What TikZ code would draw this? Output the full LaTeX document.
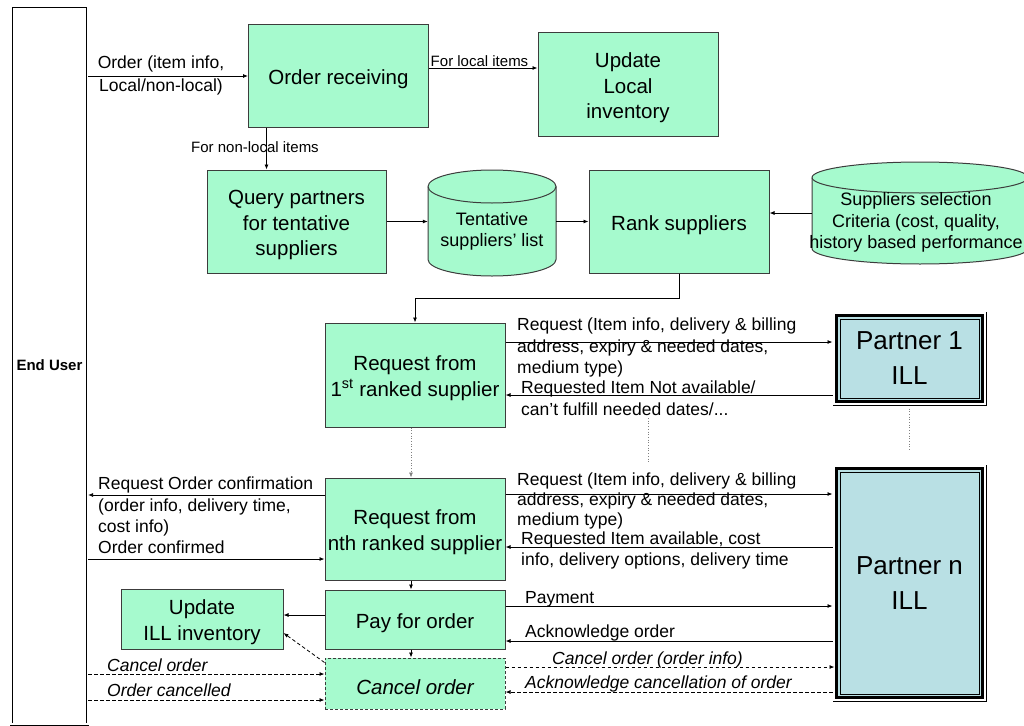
\documentclass[tikz,border=0pt]{standalone}
\usepackage{fontspec}
\setmainfont{Liberation Sans}
\usetikzlibrary{arrows.meta,calc}

\definecolor{mint}{RGB}{166,250,206}
\definecolor{illblue}{RGB}{185,224,228}
\definecolor{edgegray}{RGB}{60,60,60}
\newcommand{\tallstrut}{\rule{0pt}{21.5pt}}

\begin{document}
\begin{tikzpicture}[x=1pt,y=-1pt,
  box/.style={draw=edgegray, line width=1pt, fill=mint, align=center, inner sep=2pt,
              font=\fontsize{20.5}{25.5}\selectfont,
              execute at begin node={\rule{0pt}{22pt}}},
  multibox/.style={draw=edgegray, line width=1pt, fill=mint, align=center, inner sep=2pt,
              font=\fontsize{20.5}{25.5}\selectfont},
  cyltext/.style={align=center, inner sep=0pt, font=\fontsize{18}{21.5}\selectfont},
  cylbody/.style={draw=edgegray, line width=1pt, fill=mint},
  partner/.style={draw=black, line width=1pt, fill=illblue, align=center, inner sep=0pt,
                  font=\fontsize{26}{35}\selectfont,
                  execute at begin node={\rule{0pt}{24pt}}},
  enduser/.style={draw=black, double=white, double distance=1.8pt, line width=0.7pt,
                  inner sep=0pt, font=\bfseries\fontsize{15}{18}\selectfont},
  lbl/.style={align=left, inner sep=0pt, anchor=north west, font=\fontsize{17.5}{21.5}\selectfont},
  ilbl/.style={lbl, font=\itshape\fontsize{17.5}{21.5}\selectfont},
  smalllbl/.style={inner sep=0pt, font=\fontsize{15}{18}\selectfont},
  arr/.style={-{Latex[length=5pt,width=4pt]}, line width=0.8pt},
  darr/.style={arr, dash pattern=on 3.5pt off 2.5pt},
  dotln/.style={line width=0.7pt, gray, dotted},
]
\useasboundingbox (0,0) rectangle (1024,725);
\clip (0,0) rectangle (1024,725);

% ---------- data stores (cylinders) ----------
\draw[cylbody] (428,186.5) -- (428,259.5)
  arc[start angle=180,end angle=360,x radius=64pt,y radius=16.5pt] -- (556,186.5)
  arc[start angle=0,end angle=180,x radius=64pt,y radius=16.5pt] -- cycle;
\draw[edgegray, line width=1pt] (428,186.5)
  arc[start angle=180,end angle=360,x radius=64pt,y radius=16.5pt];

\draw[cylbody] (812,177.5) -- (812,248.5)
  arc[start angle=180,end angle=360,x radius=108pt,y radius=15.5pt] -- (1028,177.5)
  arc[start angle=0,end angle=180,x radius=108pt,y radius=15.5pt] -- cycle;
\draw[edgegray, line width=1pt] (812,177.5)
  arc[start angle=180,end angle=360,x radius=108pt,y radius=15.5pt];

% ---------- nodes ----------
\node[enduser, minimum width=76.5pt, minimum height=718pt] (eu) at (49.5,365.25) {\raisebox{-3pt}{End User}};

\node[box, minimum width=180pt, minimum height=102pt] (recv) at (338.5,76) {Order receiving};
\node[multibox, minimum width=180pt, minimum height=103pt] (updloc) at (628,84.5) {\tallstrut Update\\Local\\inventory};
\node[multibox, minimum width=179pt, minimum height=103pt] (query) at (296.5,221.5) {\tallstrut Query partners\\for tentative\\suppliers};
\node[cyltext, minimum width=128pt] (tent) at (492,231.5) {Tentative\\suppliers' list};
\node[box, minimum width=180pt, minimum height=103pt] (rank) at (679,221.5) {Rank suppliers};
\node[cyltext, minimum width=216pt] (supp) at (916,222.5) {Suppliers selection\\Criteria (cost, quality,\\history based performance};

\node[multibox, minimum width=180pt, minimum height=104pt] (req1) at (415,375) {\tallstrut Request from\\1\textsuperscript{st} ranked supplier};
\node[multibox, minimum width=180pt, minimum height=102pt] (reqn) at (415,529) {\tallstrut Request from\\nth ranked supplier};
\node[box, minimum width=180pt, minimum height=59pt] (pay) at (415,619.5) {Pay for order};
\node[box, dash pattern=on 3pt off 2pt, minimum width=180pt, minimum height=51pt,
      font=\itshape\fontsize{20.5}{25.5}\selectfont] (cancel) at (415,683.5) {Cancel order};
\node[multibox, minimum width=162pt, minimum height=60pt] (updill) at (202,619) {\tallstrut Update\\ILL inventory};

\node[partner, minimum width=153pt, minimum height=93pt] (p1) at (909.5,358.5) {Partner 1\\ILL};
\node[partner, minimum width=153pt, minimum height=236pt] (pn) at (909.5,583) {Partner n\\ILL};

% triple frame of the partner libraries (offsets inward from the outer line)
\foreach \n in {p1,pn} {
  \draw[white, line width=1.6pt] ($(\n.north west)+(1.3,1.3)$) rectangle ($(\n.south east)+(-1.3,-1.3)$);
  \draw[black, line width=3.3pt] ($(\n.north west)+(3.7,3.7)$) rectangle ($(\n.south east)+(-3.7,-3.7)$);
  \draw[black, line width=1pt] ($(\n.north west)+(7.5,7.5)$) rectangle ($(\n.south east)+(-7.5,-7.5)$);
}

% ---------- order intake ----------
\draw[arr] (eu.east |- recv.west) -- (recv.west);
\node[lbl, anchor=center, align=center, font=\fontsize{17.5}{23}\selectfont] (lorder) at (161,75.5) {Order (item info,\\Local/non-local)};

\coordinate (c1) at ([yshift=8pt]recv.east);
\draw[arr] (c1) -- (c1 -| updloc.west);
\node[smalllbl] (llocal) at (479.5,61) {For local items};

\coordinate (c2) at ([xshift=-72pt]recv.south);
\draw[arr] (c2) -- (c2 |- query.north);
\node[smalllbl] (lnonlocal) at (255,147) {For non-local items};

\draw[arr] (query.east) -- (query.east -| tent.west);
\draw[arr] (query.east -| tent.east) -- (query.east -| rank.west);
\coordinate (c3) at ([yshift=9.5pt]supp.west -| 812,0);
\draw[arr] (c3) -- (c3 -| rank.east);
\draw[arr] (rank.south) -- ++(0,25) -| (req1.north);

% ---------- first ranked supplier ----------
\coordinate (r1a) at ([yshift=33pt]req1.east);
\draw[arr] (r1a) -- (r1a -| p1.west);
\coordinate (r1b) at ([yshift=-20pt]req1.east);
\draw[arr] (r1b -| p1.west) -- (r1b);
\node[lbl] (lreq1) at (517,318) {Request (Item info, delivery \& billing\\address, expiry \& needed dates,\\medium type)};
\node[lbl] (lna1) at (521,381) {Requested Item Not available/\\can't fulfill needed dates/...};

\draw[dotln, -{Latex[length=5pt,width=4pt]}] ([xshift=-4pt]req1.south) -- ([xshift=-4pt]reqn.north);
\draw[dotln] (648,418) -- (648,462);
\draw[dotln] ([yshift=-3pt]p1.south) -- ([yshift=13pt]pn.north);

% ---------- n-th ranked supplier ----------
\coordinate (rna) at ([yshift=35pt]reqn.east);
\draw[arr] (rna) -- (rna -| pn.west);
\coordinate (rnb) at ([yshift=-18pt]reqn.east);
\draw[arr] (rnb -| pn.west) -- (rnb);
\node[lbl, font=\fontsize{17.5}{20}\selectfont] (lreqn) at (517,473) {Request (Item info, delivery \& billing\\address, expiry \& needed dates,\\medium type)};
\node[lbl] (lavail) at (521,531.5) {Requested Item available, cost\\info, delivery options, delivery time};

\coordinate (rnc) at ([yshift=34pt]reqn.west);
\draw[arr] (rnc) -- (rnc -| eu.east);
\coordinate (rnd) at ([yshift=-30pt]reqn.west);
\draw[arr] (rnd -| eu.east) -- (rnd);
\node[lbl] (lconf) at (98,477) {Request Order confirmation\\(order info, delivery time,\\cost info)};
\node[lbl] (lconfd) at (98,541) {Order confirmed};

\draw[arr] ([xshift=-4pt]reqn.south) -- ([xshift=-4pt]pay.north);
\draw[arr] ([xshift=-4pt]pay.south) -- ([xshift=-4pt]cancel.north);

% ---------- payment ----------
\coordinate (pa) at ([yshift=13.5pt]pay.east);
\draw[arr] (pa) -- (pa -| pn.west);
\coordinate (pb) at ([yshift=-21.5pt]pay.east);
\draw[arr] (pb -| pn.west) -- (pb);
\node[lbl] (lpay) at (525,591) {Payment};
\node[lbl] (lack) at (525,625) {Acknowledge order};
\coordinate (pc) at ([yshift=4.5pt]pay.west);
\draw[arr] (pc) -- (pc -| updill.east);

% ---------- cancellation ----------
\coordinate (ka) at ([yshift=16.5pt]cancel.east);
\draw[darr] (ka) -- ([xshift=2pt]ka -| pn.west);
\coordinate (kb) at ([yshift=-8.5pt]cancel.east);
\draw[darr] (kb -| pn.west) -- (kb);
\node[ilbl] (lcanp) at (552,652) {Cancel order (order info)};
\node[ilbl] (lackc) at (525,676) {Acknowledge cancellation of order};

\coordinate (kc) at ([yshift=9.5pt]cancel.west);
\draw[darr] (kc -| eu.east) -- (kc);
\coordinate (kd) at ([yshift=-16.5pt]cancel.west);
\draw[darr] (kd -| eu.east) -- (kd);
\node[ilbl] (lcanu) at (107,659) {Cancel order};
\node[ilbl] (lcand) at (107,684) {Order cancelled};

\draw[darr] ([yshift=-5pt]cancel.north west) -- ([yshift=-14pt]updill.east);
\end{tikzpicture}
\end{document}
